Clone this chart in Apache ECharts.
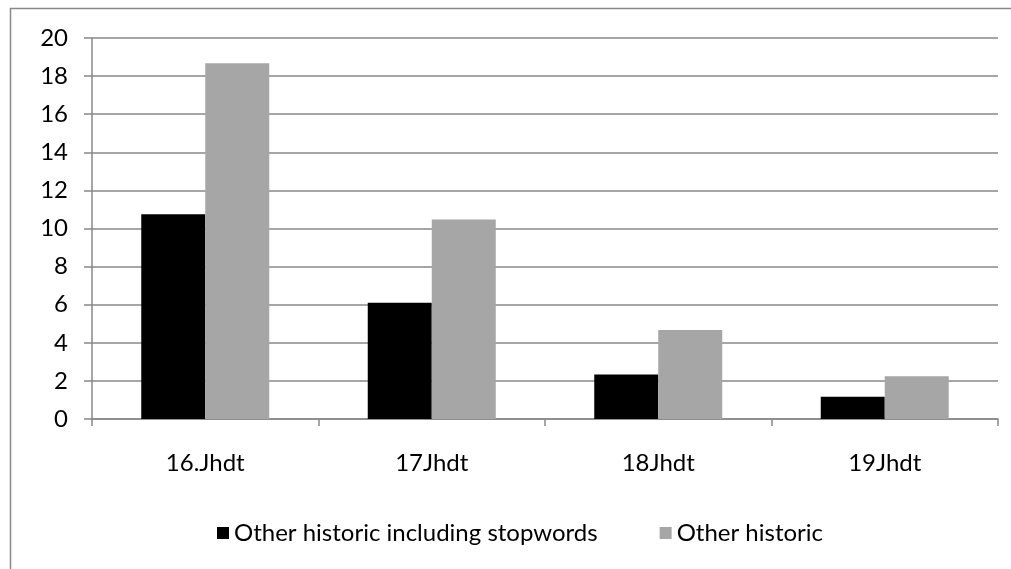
<!DOCTYPE html>
<html lang="en">
<head>
    <meta charset="UTF-8">
    <title>Chart</title>
    <style>
        html,body{margin:0;padding:0;background:#fff;}
        #mychart{width:1011px;height:569px;}
    </style>
</head>
<body>
    <div id="mychart"></div>
    <script src="https://cdn.jsdelivr.net/npm/echarts@6/dist/echarts.min.js"></script>
    <script>
        var categories=['16.Jhdt','17Jhdt','18Jhdt','19Jhdt']
        var withStopwords=[10.75,6.1,2.33,1.17]//黑色
        var otherHistoric=[18.68,10.47,4.67,2.25]//灰色
        var seriesNames=['Other historic including stopwords','Other historic']
        var fontName='Lato, "Liberation Sans", sans-serif'

        var myChart=echarts.init(document.getElementById('mychart'))
        var option={
            animation:false,
            backgroundColor:'#fff',
            graphic:[
                {//外边框
                    type:'rect',
                    shape:{x:10.5,y:8.5,width:1010,height:600},
                    style:{fill:'none',stroke:'#898989',lineWidth:1.5}
                }
            ],
            grid:{left:92,right:13,top:38,bottom:150},
            legend:{
                bottom:19,
                left:212,
                itemWidth:12,
                itemHeight:12,
                itemGap:62,
                icon:'rect',
                textStyle:{fontFamily:fontName,fontSize:24,color:'#000'},
                data:seriesNames
            },
            xAxis:{
                type:'category',
                data:categories,
                axisLine:{lineStyle:{color:'#888',width:1.5}},
                axisTick:{show:true,length:7,lineStyle:{color:'#888',width:1.5}},
                axisLabel:{fontFamily:fontName,fontSize:24,color:'#000',margin:32}
            },
            yAxis:{
                type:'value',
                min:0,
                max:20,
                interval:2,
                axisLine:{show:true,lineStyle:{color:'#888',width:1.5}},
                axisTick:{show:true,length:8,lineStyle:{color:'#888',width:1.5}},
                axisLabel:{fontFamily:fontName,fontSize:24,color:'#000',margin:24},
                splitLine:{lineStyle:{color:'#888',width:1.5}}
            },
            series:[
                {
                    name:seriesNames[0],
                    type:'bar',
                    data:withStopwords,
                    barWidth:64,
                    barGap:'0%',
                    itemStyle:{color:'#000'}
                },
                {
                    name:seriesNames[1],
                    type:'bar',
                    data:otherHistoric,
                    barWidth:64,
                    itemStyle:{color:'#a6a6a6'}
                }
            ]
        }
        myChart.setOption(option)
    </script>
</body>
</html>
